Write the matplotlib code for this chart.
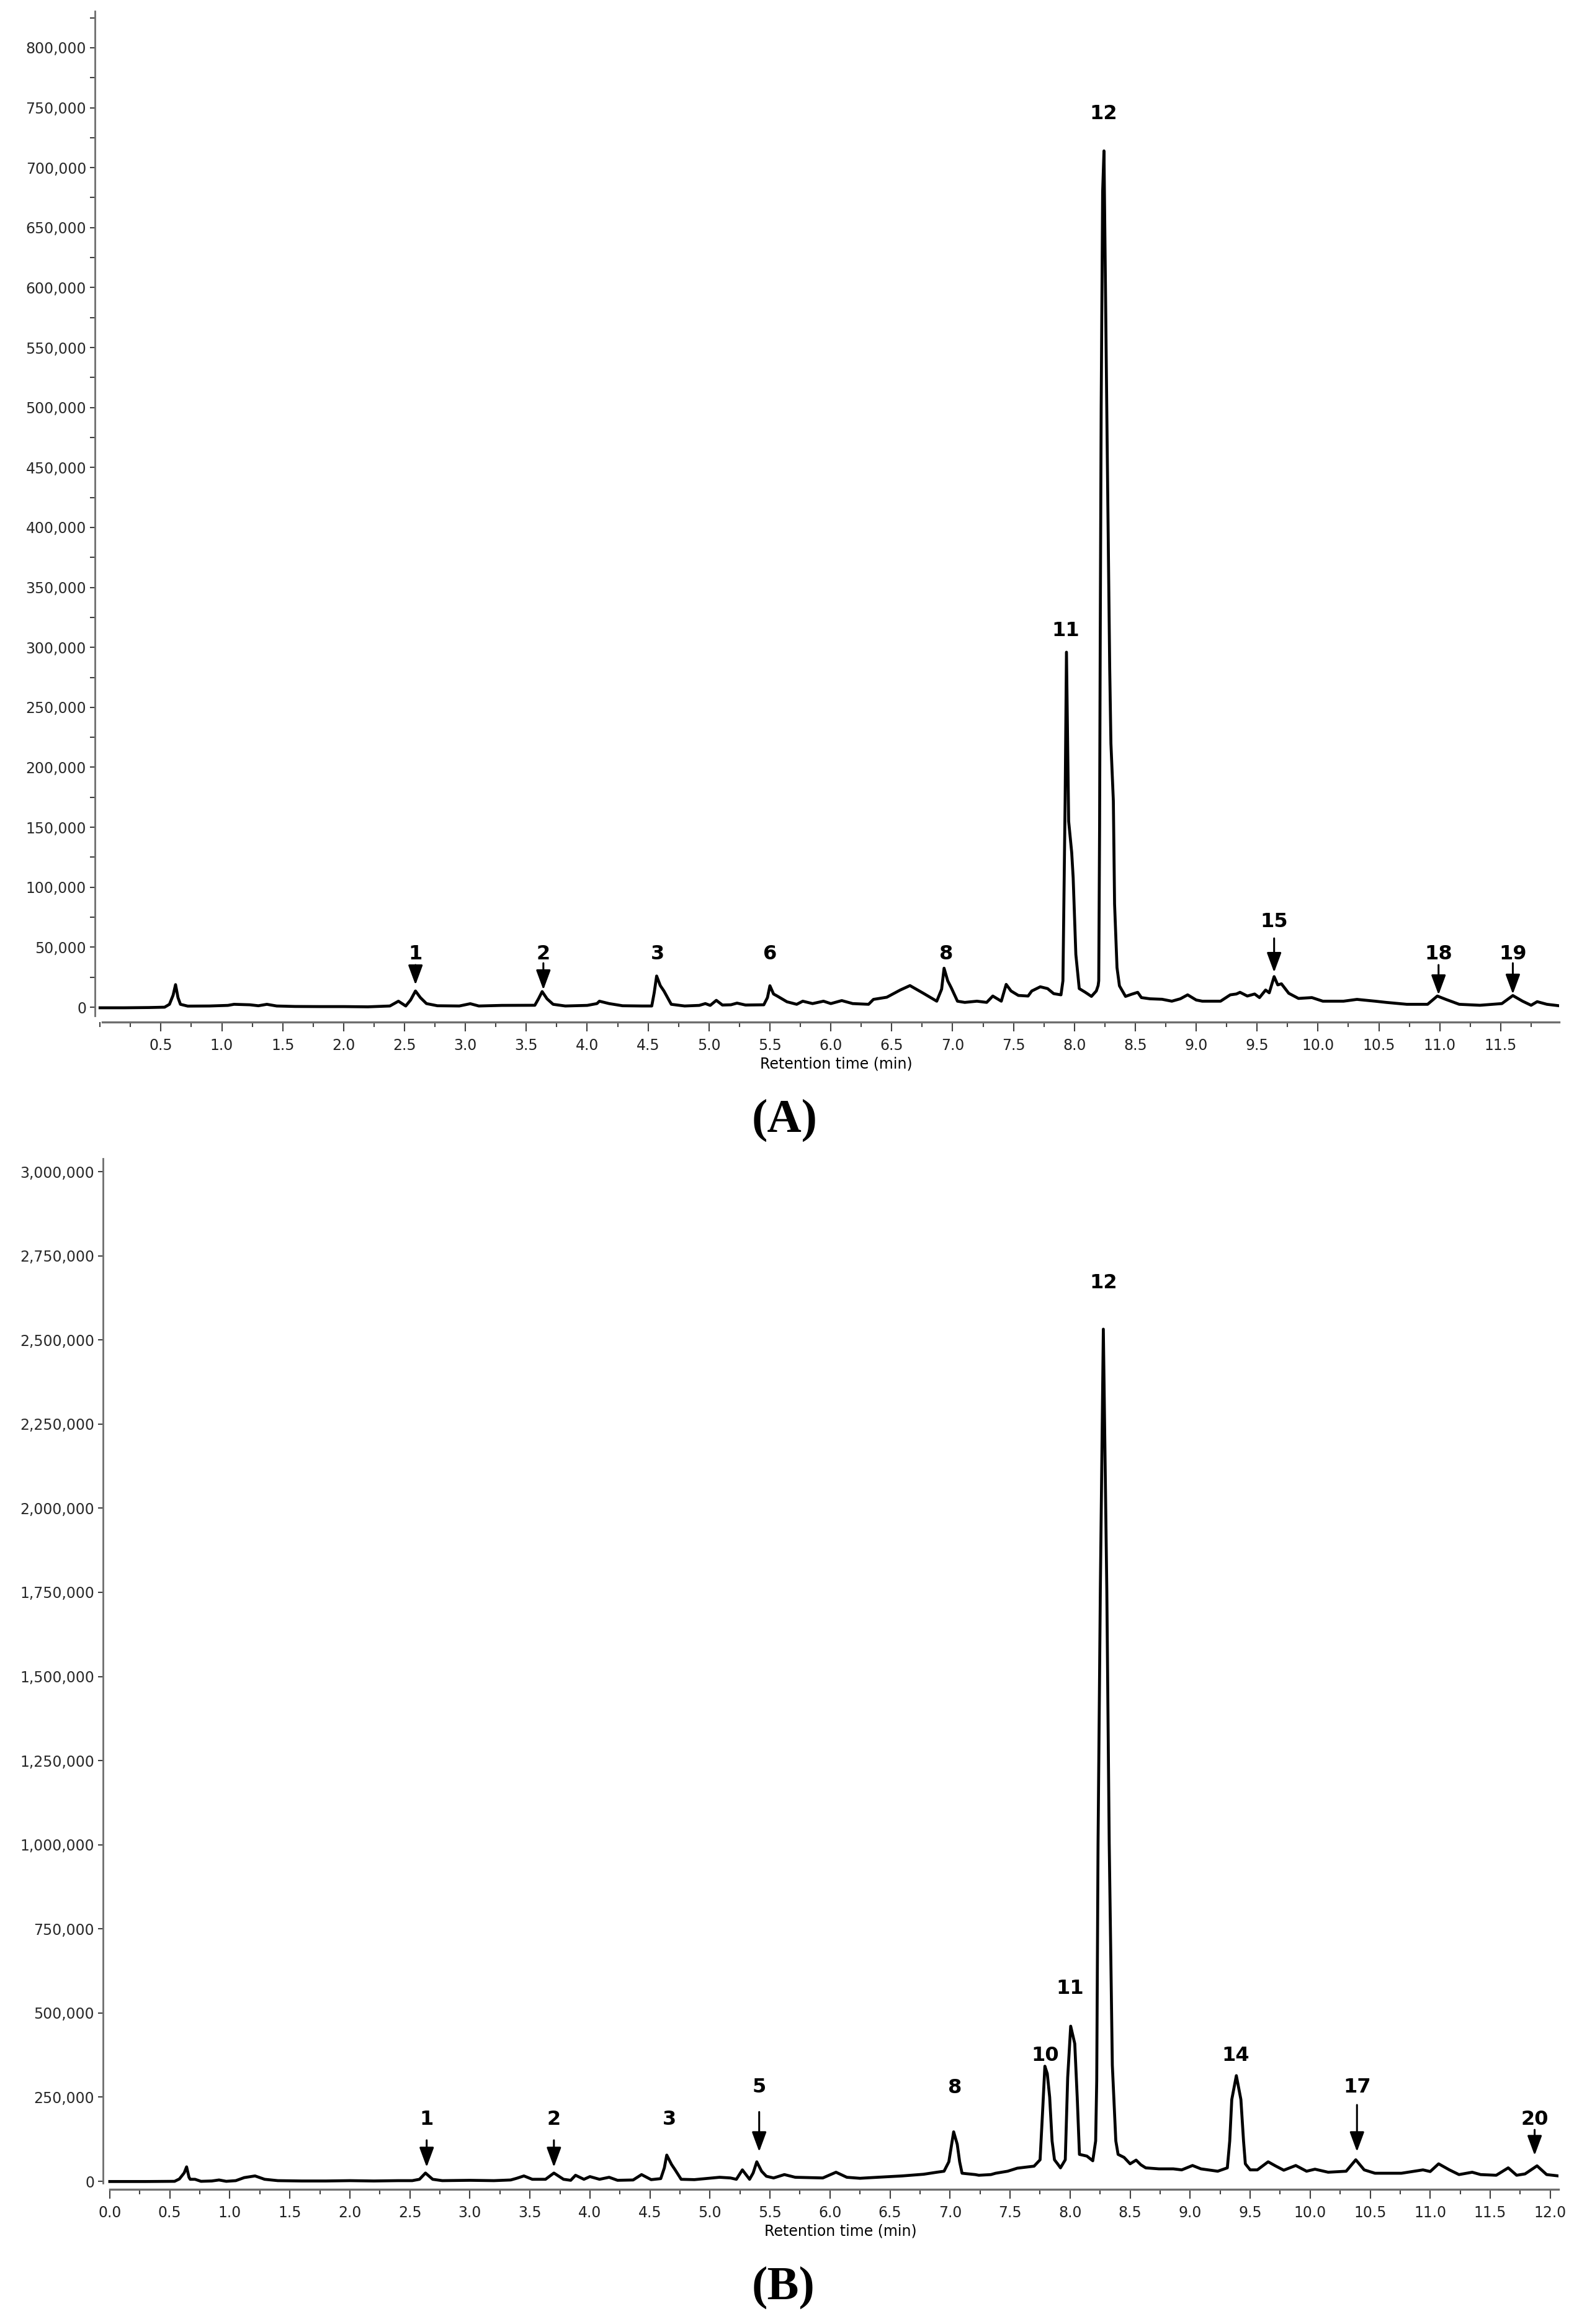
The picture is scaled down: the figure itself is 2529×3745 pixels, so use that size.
import matplotlib
matplotlib.use("Agg")
import matplotlib.pyplot as plt
import numpy as np
from matplotlib.ticker import FuncFormatter, MultipleLocator

# ---- panel A trace (retention time in min, signal in thousands) ----
time_a = [0.00, 0.20, 0.40, 0.53, 0.57, 0.60, 0.62, 0.64, 0.66, 0.72, 0.90, 1.05, 1.10, 1.23,
          1.30, 1.37, 1.45, 1.60, 1.80, 2.00, 2.20, 2.38, 2.45, 2.51, 2.55, 2.59, 2.63, 2.68,
          2.77, 2.95, 3.04, 3.11, 3.30, 3.50, 3.57, 3.60, 3.63, 3.67, 3.72, 3.82, 4.00, 4.08,
          4.10, 4.18, 4.29, 4.45, 4.53, 4.55, 4.57, 4.60, 4.63, 4.69, 4.80, 4.92, 4.97, 5.01,
          5.06, 5.11, 5.18, 5.23, 5.30, 5.45, 5.48, 5.50, 5.53, 5.56, 5.64, 5.72, 5.77, 5.85,
          5.94, 6.00, 6.09, 6.18, 6.31, 6.35, 6.46, 6.57, 6.65, 6.76, 6.87, 6.91, 6.93, 6.96,
          6.99, 7.04, 7.10, 7.20, 7.28, 7.33, 7.40, 7.44, 7.48, 7.54, 7.62, 7.65, 7.72, 7.78,
          7.83, 7.89, 7.906, 7.924, 7.935, 7.948, 7.953, 7.978, 7.99, 8.012, 8.04, 8.09, 8.14,
          8.18, 8.195, 8.200, 8.207, 8.212, 8.220, 8.232, 8.243, 8.252, 8.270, 8.290, 8.300,
          8.320, 8.330, 8.350, 8.370, 8.42, 8.47, 8.52, 8.55, 8.62, 8.72, 8.80, 8.87, 8.93,
          9.00, 9.05, 9.11, 9.20, 9.28, 9.33, 9.36, 9.42, 9.48, 9.52, 9.57, 9.60, 9.64, 9.67,
          9.70, 9.76, 9.84, 9.95, 10.04, 10.21, 10.32, 10.47, 10.56, 10.73, 10.90, 10.98,
          11.05, 11.16, 11.33, 11.51, 11.60, 11.68, 11.75, 11.80, 11.88, 11.98]
signal_a = [-0.5, -0.5, -0.3, 0.0, 2.4, 10.0, 18.8, 8.0, 2.4, 0.9, 1.0, 1.5, 2.4, 2.0,
            1.2, 2.4, 1.0, 0.6, 0.5, 0.5, 0.3, 1.0, 5.0, 1.0, 6.0, 13.5, 8.0, 3.0,
            1.2, 1.0, 2.9, 1.0, 1.5, 1.6, 1.6, 7.0, 13.0, 7.0, 2.4, 1.0, 1.5, 3.0,
            5.0, 3.0, 1.2, 1.0, 1.0, 12.0, 26.0, 18.0, 13.5, 2.4, 1.0, 1.5, 3.0, 1.5,
            5.7, 1.8, 2.0, 3.4, 1.8, 2.0, 8.0, 17.9, 11.0, 9.3, 4.5, 2.4, 5.0, 3.0,
            5.0, 3.0, 5.5, 3.0, 2.4, 6.5, 8.3, 14.3, 18.0, 11.6, 5.0, 15.0, 32.5, 22.0,
            16.0, 5.0, 4.0, 5.0, 4.0, 9.3, 5.0, 19.0, 13.5, 9.8, 9.3, 13.5, 17.0, 15.5,
            11.3, 10.3, 22.0, 172.0, 296.0, 193.0, 155.0, 129.0, 108.0, 44.0, 15.5, 12.4, 9.0,
            13.5, 18.0, 22.0, 150.0, 300.0, 500.0, 680.0, 714.0, 630.0, 462.0, 283.0, 220.0,
            172.0, 86.0, 33.0, 17.8, 9.0, 10.8, 12.4, 8.0, 7.0, 6.6, 5.0, 7.0, 10.3,
            6.0, 5.0, 5.0, 5.0, 10.3, 11.0, 12.4, 9.3, 11.0, 8.0, 14.3, 12.0, 25.5, 18.6,
            19.5, 11.6, 7.3, 8.0, 5.0, 5.0, 6.5, 5.0, 4.0, 2.4, 2.4, 9.3,
            6.5, 2.4, 1.6, 3.0, 9.7, 5.0, 1.6, 4.6, 2.4, 1.2]

# ---- panel B trace ----
time_b = [0.00, 0.30, 0.54, 0.58, 0.62, 0.64, 0.66, 0.67, 0.71, 0.76, 0.85, 0.91, 0.97, 1.05,
          1.12, 1.21, 1.29, 1.40, 1.60, 1.80, 2.00, 2.20, 2.40, 2.52, 2.58, 2.63, 2.69, 2.77,
          3.00, 3.20, 3.34, 3.39, 3.45, 3.52, 3.63, 3.70, 3.78, 3.84, 3.88, 3.95, 4.00, 4.08,
          4.16, 4.23, 4.36, 4.43, 4.51, 4.59, 4.62, 4.64, 4.68, 4.71, 4.76, 4.87, 5.08, 5.17,
          5.22, 5.27, 5.33, 5.36, 5.39, 5.43, 5.47, 5.53, 5.62, 5.71, 5.94, 6.05, 6.14, 6.25,
          6.32, 6.60, 6.78, 6.89, 6.95, 6.99, 7.03, 7.06, 7.08, 7.10, 7.21, 7.24, 7.34, 7.38,
          7.48, 7.56, 7.70, 7.75, 7.77, 7.79, 7.81, 7.83, 7.85, 7.87, 7.90, 7.92, 7.96, 7.98,
          8.005, 8.039, 8.06, 8.078, 8.14, 8.189, 8.213, 8.222, 8.233, 8.252, 8.277, 8.306,
          8.326, 8.352, 8.381, 8.40, 8.45, 8.50, 8.55, 8.59, 8.63, 8.74, 8.86, 8.93, 9.02,
          9.09, 9.23, 9.31, 9.33, 9.347, 9.385, 9.423, 9.445, 9.46, 9.50, 9.56, 9.65, 9.71,
          9.78, 9.88, 9.97, 10.04, 10.15, 10.30, 10.38, 10.45, 10.54, 10.76, 10.94, 11.00,
          11.07, 11.16, 11.24, 11.35, 11.42, 11.55, 11.65, 11.72, 11.79, 11.89, 11.97, 12.07]
signal_b = [-0.6, -0.6, 0.0, 7.0, 25.0, 43.0, 12.0, 6.0, 6.0, 0.0, 1.0, 4.0, 0.0, 2.0,
            11.0, 16.0, 6.0, 2.0, 1.0, 1.0, 2.0, 1.0, 2.0, 2.0, 6.0, 24.6, 6.0, 2.0,
            3.0, 2.0, 4.0, 9.0, 16.0, 6.0, 6.0, 24.6, 6.0, 3.0, 18.0, 6.0, 14.0, 6.0,
            12.0, 3.0, 4.0, 20.0, 5.0, 8.0, 40.0, 78.0, 50.0, 34.0, 6.0, 5.0, 12.0, 10.0,
            6.0, 34.0, 6.0, 25.0, 58.0, 30.0, 15.0, 10.0, 20.0, 12.0, 10.0, 27.0, 12.0, 9.0,
            10.5, 16.0, 21.0, 27.0, 30.0, 58.0, 147.0, 110.0, 58.0, 24.0, 20.0, 18.0, 20.0, 24.0,
            30.0, 39.0, 45.0, 64.0, 200.0, 342.0, 320.0, 250.0, 120.0, 64.0, 50.0, 40.0, 64.0, 308.0,
            461.0, 409.0, 245.0, 80.0, 75.0, 61.0, 120.0, 300.0, 1004.0, 1757.0, 2532.0, 1757.0,
            1004.0, 345.0, 120.0, 80.0, 71.0, 52.0, 63.0, 49.0, 40.0, 37.0, 37.0, 34.0, 47.0,
            37.0, 30.0, 40.0, 120.0, 243.0, 314.0, 243.0, 120.0, 52.0, 34.0, 34.0, 58.0, 46.0,
            33.0, 47.0, 30.0, 36.0, 27.0, 30.0, 64.0, 34.0, 24.0, 24.0, 34.0, 29.0,
            52.0, 34.0, 20.0, 27.0, 20.0, 18.0, 40.0, 18.0, 22.0, 46.0, 20.0, 16.0]

# ---- peak labels: (label, time, label height, arrow start, arrow tip) in thousands ----
peaks_a = [("1", 2.59, 44.5, 35.2, 18.6), ("2", 3.64, 44.5, 36.7, 14.5), ("3", 4.58, 44.5, None, None),
           ("6", 5.50, 44.5, None, None), ("8", 6.95, 44.5, None, None), ("11", 7.93, 314, None, None),
           ("12", 8.24, 745, None, None), ("15", 9.64, 71, 57.4, 29.0), ("18", 10.99, 44.5, 35.2, 10.3),
           ("19", 11.60, 44.5, 36.7, 10.9)]
peaks_b = [("1", 2.64, 184, 122, 42), ("2", 3.70, 184, 122, 42), ("3", 4.66, 184, None, None),
           ("5", 5.41, 280, 206, 88), ("8", 7.04, 277, None, None), ("10", 7.79, 374, None, None),
           ("11", 8.00, 572, None, None), ("12", 8.28, 2670, None, None), ("14", 9.38, 374, None, None),
           ("17", 10.39, 280, 227, 88), ("20", 11.87, 184, 153, 77)]

fig = plt.figure(figsize=(25.29, 37.45), dpi=100)
fig.patch.set_facecolor("white")

comma_fmt = FuncFormatter(lambda v, p: f"{int(round(v)):,}")


def style_axis(ax, xlim, ylim, xmaj_start, xend, ymaj, ymin):
    ax.set_xlim(*xlim)
    ax.set_ylim(*ylim)
    for s in ["top", "right"]:
        ax.spines[s].set_visible(False)
    ax.spines["left"].set_color("#6e6e6e")
    ax.spines["left"].set_linewidth(2.0)
    ax.spines["bottom"].set_color("#6e6e6e")
    ax.spines["bottom"].set_linewidth(2.4)
    ax.spines["bottom"].set_position(("outward", 7.2))
    ax.spines["bottom"].set_bounds(xlim[0] + 0.06 if xmaj_start > 0 else 0.0, xend)
    ax.set_xticks(np.arange(xmaj_start, xend + 0.01, 0.5))
    ax.set_xticklabels([f"{v:.1f}" for v in np.arange(xmaj_start, xend + 0.01, 0.5)])
    ax.xaxis.set_minor_locator(MultipleLocator(0.25))
    ax.yaxis.set_major_locator(MultipleLocator(ymaj))
    if ymin:
        ax.yaxis.set_minor_locator(MultipleLocator(ymin))
    ax.yaxis.set_major_formatter(comma_fmt)
    ax.tick_params(axis="x", which="major", length=11, width=1.5, color="#404040",
                   labelsize=17, pad=8, labelcolor="#222222")
    ax.tick_params(axis="x", which="minor", length=6, width=1.5, color="#404040")
    ax.tick_params(axis="y", which="both", length=5.5, width=1.5, color="#404040",
                   labelsize=17, pad=4.5, labelcolor="#2a2a2a")


def add_peaks(ax, peaks):
    for lab, t, ylab, ya, yt in peaks:
        ax.text(t, ylab * 1000, lab, ha="center", va="center", fontsize=23,
                fontweight="bold", color="black")
        if ya is not None:
            ax.annotate("", xy=(t, yt * 1000), xytext=(t, ya * 1000),
                        arrowprops=dict(arrowstyle="-|>,head_length=0.65,head_width=0.24",
                                        mutation_scale=30, color="black", lw=2.2,
                                        shrinkA=0, shrinkB=0))


# panel A
ax1 = fig.add_axes([0.0605, 0.5629, 0.9332, 0.4323])
ax1.plot(time_a, np.array(signal_a) * 1000, color="black", lw=3.4, solid_joinstyle="round")
style_axis(ax1, (-0.042, 11.98), (-7200, 830500), 0.5, 11.98, 50000, 25000)
add_peaks(ax1, peaks_a)
fig.text(0.533, 0.5421, "Retention time (min)", ha="center", va="center", fontsize=17)
fig.text(0.5002, 0.518, "(A)", ha="center", va="center", fontsize=55,
         fontweight="bold", family="Liberation Serif")

# panel B
ax2 = fig.add_axes([0.0656, 0.0606, 0.9278, 0.4409])
ax2.plot(time_b, np.array(signal_b) * 1000, color="black", lw=3.4, solid_joinstyle="round")
style_axis(ax2, (-0.057, 12.07), (-5500, 3039000), 0.0, 12.07, 250000, None)
add_peaks(ax2, peaks_b)
fig.text(0.5358, 0.04005, "Retention time (min)", ha="center", va="center", fontsize=17)
fig.text(0.4994, 0.01575, "(B)", ha="center", va="center", fontsize=55,
         fontweight="bold", family="Liberation Serif")

fig.savefig("out.png", dpi=100)
